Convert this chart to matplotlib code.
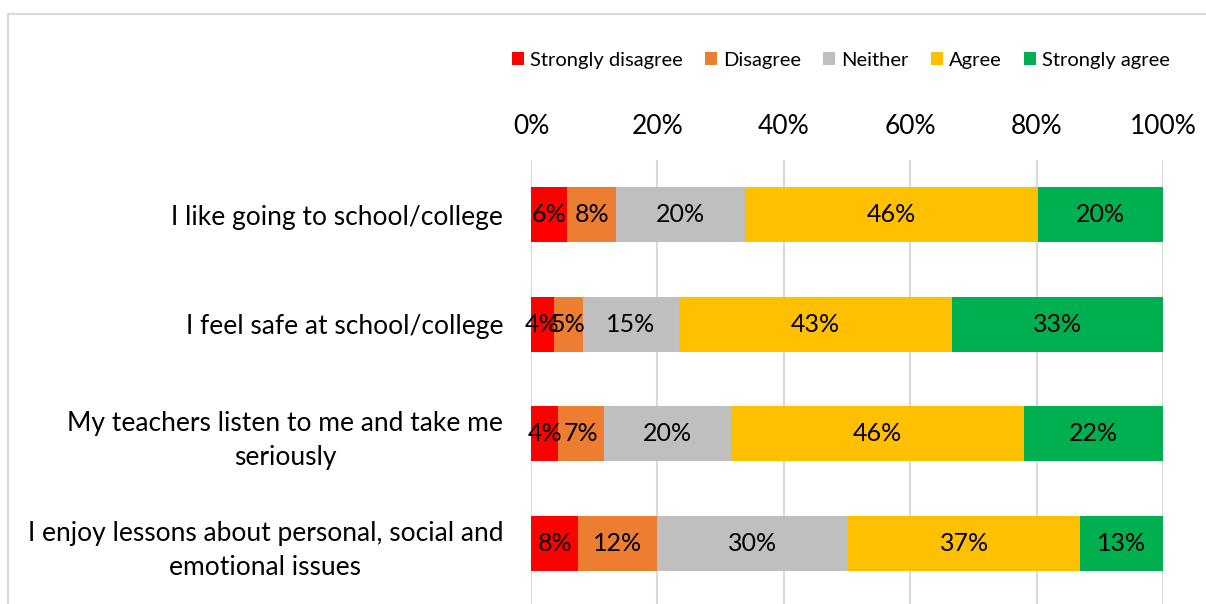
import matplotlib.pyplot as plt
from matplotlib.patches import Rectangle

plt.rcParams["font.family"] = ["Lato", "DejaVu Sans"]

statements = [
    "I like going to school/college",
    "I feel safe at school/college",
    "My teachers listen to me and take me\nseriously",
    "I enjoy lessons about personal, social and\nemotional issues",
]
responses = ["Strongly disagree", "Disagree", "Neither", "Agree", "Strongly agree"]
colors = ["#FF0000", "#ED7D31", "#BFBFBF", "#FFC000", "#00B050"]

# percentage of pupils giving each response, one list per response
strongly_disagree = [5.7, 3.6, 4.3, 7.5]
disagree = [7.8, 4.6, 7.2, 12.4]
neither = [20.4, 15.2, 20.2, 30.3]
agree = [46.3, 43.2, 46.3, 36.7]
strongly_agree = [19.8, 33.4, 22.0, 13.1]
series = [strongly_disagree, disagree, neither, agree, strongly_agree]

x_ticks = [0, 20, 40, 60, 80, 100]

fig = plt.figure(figsize=(12.06, 6.04), dpi=100)
ax = fig.add_axes([0.4403, 0.0, 0.524, 0.735])

ypos = list(range(len(statements)))
left = [0.0] * len(statements)
for name, vals, col in zip(responses, series, colors):
    bars = ax.barh(ypos, vals, left=left, height=0.5, color=col, label=name, zorder=3)
    for b, v in zip(bars, vals):
        ax.text(b.get_x() + b.get_width() / 2, b.get_y() + b.get_height() / 2,
                f"{round(v):d}%", ha="center", va="center", fontsize=18,
                color="#000000", zorder=4)
    left = [l + v for l, v in zip(left, vals)]

ax.set_xlim(0, 100)
ax.set_ylim(3.555, -0.5)
ax.set_xticks(x_ticks)
ax.set_xticklabels([f"{t}%" for t in x_ticks], fontsize=19)
ax.xaxis.tick_top()
ax.tick_params(axis="x", length=0, pad=15)
ax.set_yticks(ypos)
ax.set_yticklabels(statements, fontsize=19, multialignment="center", linespacing=1.45)
ax.tick_params(axis="y", length=0, pad=20)
ax.grid(axis="x", color="#D9D9D9", linewidth=1.5, zorder=0)
for s in ax.spines.values():
    s.set_visible(False)

fig.legend(loc="center", bbox_to_anchor=(0.697, 0.9), ncol=5, frameon=False,
           fontsize=14.5, handlelength=0.6, handleheight=0.6, handletextpad=0.3,
           columnspacing=1.1)

# light border round the chart area
fig.patches.append(Rectangle((8 / 1206, -0.1), 1.2, 1 - 14 / 604 + 0.1,
                             transform=fig.transFigure, fill=False,
                             edgecolor="#D9D9D9", linewidth=1.5))

fig.savefig("out.png", dpi=100)
